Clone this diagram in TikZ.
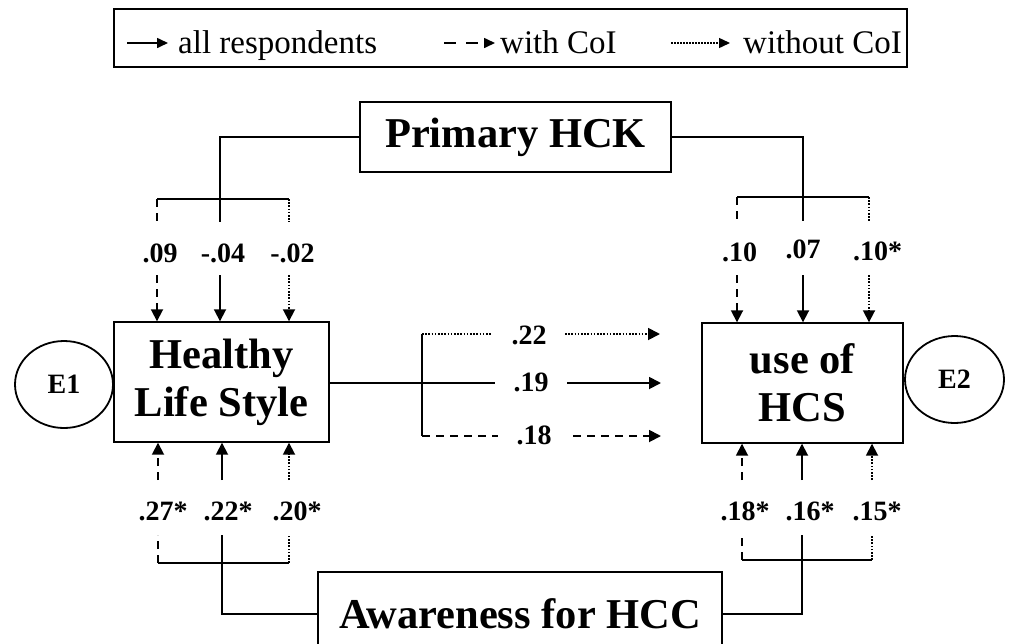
\documentclass[tikz,border=0pt]{standalone}
\usepackage{fontspec}
\setmainfont{Liberation Serif}
\usetikzlibrary{arrows.meta,shapes.geometric}
\begin{document}
\begin{tikzpicture}[x=1pt,y=-1pt,
  conn/.style={line width=1.8pt},
  dsh/.style={conn,dash pattern=on 8pt off 6pt},
  dot/.style={conn,dash pattern=on 1.6pt off 1.6pt},
  arr/.style={-{Triangle[length=12pt,width=12pt]}},
  larr/.style={-{Triangle[length=11pt,width=10pt]}},
  box/.style={draw,line width=1.4pt,inner sep=0pt,font=\fontsize{42.5}{48}\selectfont\bfseries,align=center},
  lab/.style={font=\fontsize{28}{30}\selectfont\bfseries,inner sep=0pt,anchor=base},
  leg/.style={font=\fontsize{33}{36}\selectfont,inner sep=0pt,anchor=base west},
  err/.style={draw,line width=1.8pt,ellipse,inner sep=0pt,font=\fontsize{28}{30}\selectfont\bfseries}]
\useasboundingbox (0,0) rectangle (1011,643);

% legend
\node[draw,line width=2.2pt,minimum width=793pt,minimum height=58pt,inner sep=0pt] (legend) at (510.5,38) {};
\coordinate (ls1) at (127,43); \coordinate (le1) at (168,43);
\coordinate (ls2) at (444,43); \coordinate (le2) at (495,43);
\coordinate (ls3) at (671,43); \coordinate (le3) at (730,43);
\draw[conn,line width=1.6pt,larr] (ls1) -- (le1);
\draw[conn,line width=1.6pt,dash pattern=on 12pt off 10pt,larr] (ls2) -- (le2);
\draw[conn,line width=1.4pt,dash pattern=on 1.5pt off 1.5pt,larr] (ls3) -- (le3);
\node[leg] (t1) at (178,53) {all respondents};
\node[leg] (t2) at (500,53) {with CoI};
\node[leg] (t3) at (743,53) {without CoI};

% boxes
\node[box,minimum width=311pt,minimum height=70pt] (phck) at (515.5,137) {Primary HCK};
\node[box,minimum width=215pt,minimum height=120pt] (hls) at (221.5,382) {Healthy\\Life Style};
\node[box,minimum width=201pt,minimum height=120pt] (hcs) at (802.5,383) {use of\\HCS};
\node[box,minimum width=404pt,minimum height=84pt] (awr) at (520,614) {Awareness for HCC};
\node[err,minimum width=98pt,minimum height=87pt] (e1) at (64,384.5) {E1};
\node[err,minimum width=99pt,minimum height=87pt] (e2) at (954.5,379.5) {E2};

% top-left bracket
\coordinate (tlm) at (220,222);
\coordinate (tll) at (157,199); \coordinate (tlr) at (289,199);
\draw[conn] (phck.west) -| (tlm);
\draw[conn] (tll) -- (tlr);
\draw[dsh] (tll) -- ++(0,23);
\draw[dot] (tlr) -- ++(0,23);
\node[lab] (l09) at (160,262) {.09};
\node[lab] (l04) at (223,262) {-.04};
\node[lab] (l02) at (292.5,262) {-.02};
\coordinate (a1) at (157,275); \coordinate (a2) at (220,275); \coordinate (a3) at (289,275);
\draw[dsh,arr] (a1) -- (a1 |- hls.north);
\draw[conn,arr] (a2) -- (a2 |- hls.north);
\draw[dot,arr] (a3) -- (a3 |- hls.north);

% top-right bracket
\coordinate (trm) at (803,221);
\coordinate (trl) at (737,197); \coordinate (trr) at (869,197);
\draw[conn] (phck.east) -| (trm);
\draw[conn] (trl) -- (trr);
\draw[dsh] (trl) -- ++(0,24);
\draw[dot] (trr) -- ++(0,24);
\node[lab] (l10) at (739.5,261) {.10};
\node[lab] (l07) at (803,258) {.07};
\node[lab] (l10s) at (877.5,260) {.10*};
\coordinate (b1) at (737,275); \coordinate (b2) at (803,275); \coordinate (b3) at (869,275);
\draw[dsh,arr] (b1) -- (b1 |- hcs.north);
\draw[conn,arr] (b2) -- (b2 |- hcs.north);
\draw[dot,arr] (b3) -- (b3 |- hcs.north);

% middle
\coordinate (mj) at (422,383);
\coordinate (mt) at (422,334); \coordinate (mb) at (422,436);
\draw[conn] (hls.east |- mj) -- (495,383);
\draw[conn] (mt) -- (mb);
\draw[dot] (mt) -- (491,334);
\draw[dsh] (mb) -- (498,436);
\node[lab] (l22) at (529,344) {.22};
\node[lab] (l19) at (531,391) {.19};
\node[lab] (l18) at (534,444) {.18};
\coordinate (m1s) at (565,334); \coordinate (m1e) at (660,334);
\coordinate (m2s) at (567,383); \coordinate (m2e) at (661,383);
\coordinate (m3s) at (573,436); \coordinate (m3e) at (661,436);
\draw[dot,arr] (m1s) -- (m1e);
\draw[conn,arr] (m2s) -- (m2e);
\draw[dsh,arr] (m3s) -- (m3e);

% bottom-left bracket
\coordinate (c1) at (158,480); \coordinate (c2) at (222,480); \coordinate (c3) at (289,480);
\draw[dsh,arr] (c1) -- (c1 |- hls.south);
\draw[conn,arr] (c2) -- (c2 |- hls.south);
\draw[dot,arr] (c3) -- (c3 |- hls.south);
\node[lab] (l27) at (163,520) {.27*};
\node[lab] (l22s) at (228,520) {.22*};
\node[lab] (l20) at (297,520) {.20*};
\coordinate (blm) at (222,535);
\coordinate (bll) at (158,563); \coordinate (blr) at (289,563);
\draw[dsh] (bll) -- (158,535);
\draw[dot] (blr) -- (289,535);
\draw[conn] (bll) -- (blr);
\draw[conn] (blm) |- (awr.west);

% bottom-right bracket
\coordinate (d1) at (742,480); \coordinate (d2) at (802,480); \coordinate (d3) at (872,480);
\draw[dsh,arr] (d1) -- (d1 |- hcs.south);
\draw[conn,arr] (d2) -- (d2 |- hcs.south);
\draw[dot,arr] (d3) -- (d3 |- hcs.south);
\node[lab] (l18s) at (745,520) {.18*};
\node[lab] (l16) at (810,520) {.16*};
\node[lab] (l15) at (877,520) {.15*};
\coordinate (brm) at (802,535);
\coordinate (brl) at (742,560); \coordinate (brr) at (872,560);
\draw[dsh] (brl) -- (742,535);
\draw[dot] (brr) -- (872,535);
\draw[conn] (brl) -- (brr);
\draw[conn] (brm) |- (awr.east);
\end{tikzpicture}
\end{document}
